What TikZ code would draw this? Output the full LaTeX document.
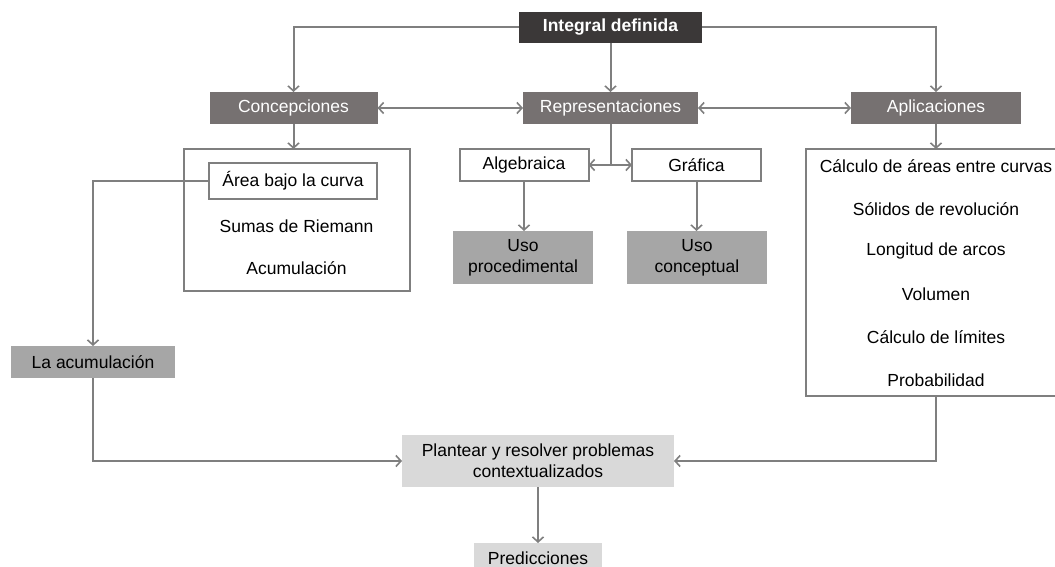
\documentclass[tikz,border=0pt]{standalone}
\usepackage{fontspec}
\setmainfont{Liberation Sans}
\usetikzlibrary{arrows.meta}
\definecolor{cdark}{HTML}{3B3838}
\definecolor{cmid}{HTML}{767171}
\definecolor{cgray}{HTML}{A6A6A6}
\definecolor{clight}{HTML}{D9D9D9}
\definecolor{cline}{HTML}{7F7F7F}
\begin{document}
\begin{tikzpicture}[x=1pt,y=-1pt,
  every node/.style={inner sep=0pt, outer sep=0pt, font=\fontsize{17.5}{21}\selectfont, align=center},
  topbox/.style={fill=cdark, text=white, font=\fontsize{17.5}{21}\selectfont\bfseries},
  headbox/.style={fill=cmid, text=white},
  outbox/.style={draw=cline, line width=2pt, fill=white},
  greybox/.style={fill=cgray},
  lightbox/.style={fill=clight},
  tip/.tip={Straight Barb[length=5pt,width=11pt,line width=1.6pt]},
  conn/.style={draw=cline, line width=2pt, -tip},
  dconn/.style={draw=cline, line width=2pt, tip-tip},
  plain/.style={draw=cline, line width=2pt}
]
\useasboundingbox (0,0) rectangle (1055,567);
\fill[white] (0,0) rectangle (1055,567);

% top level
\node[topbox, minimum width=183pt, minimum height=31pt] (top) at (610.5,27.5) {Integral definida};

% second level
\node[headbox, minimum width=168pt, minimum height=32pt] (conc) at (293.5,108) {Concepciones};
\node[headbox, minimum width=175pt, minimum height=32pt] (rep) at (610.5,108) {Representaciones};
\node[headbox, minimum width=170pt, minimum height=32pt] (apl) at (936,108) {Aplicaciones};

% conceptions frame
\node[outbox, minimum width=226pt, minimum height=142pt] (cbox) at (296.5,220) {};
\node[outbox, minimum width=168pt, minimum height=36pt] (area) at (293,181) {Área bajo la curva};
\node (sumas) at (296.5,226) {Sumas de Riemann};
\node (acum) at (296.5,268) {Acumulación};

% representations
\node[outbox, minimum width=129pt, minimum height=32pt] (alg) at (524,165) {Algebraica};
\node[outbox, minimum width=129pt, minimum height=32pt] (graf) at (696.5,165) {Gráfica};
\node[greybox, minimum width=140pt, minimum height=53pt] (usop) at (523,257.5) {Uso\\procedimental};
\node[greybox, minimum width=140pt, minimum height=53pt] (usoc) at (697,257.5) {Uso\\conceptual};
\coordinate (fork) at (610.5,165);

% applications frame
\node[outbox, minimum width=260pt, minimum height=247pt] (abox) at (936,272.5) {};
\node (a1) at (936,166) {Cálculo de áreas entre curvas};
\node (a2) at (936,209) {Sólidos de revolución};
\node (a3) at (936,251) {Longitud de arcos};
\node (a4) at (936,294) {Volumen};
\node (a5) at (936,337) {Cálculo de límites};
\node (a6) at (936,380) {Probabilidad};

% lower part
\node[greybox, minimum width=164pt, minimum height=32pt] (lacum) at (93,362) {La acumulación};
\node[lightbox, minimum width=272pt, minimum height=52pt] (plan) at (538,461) {Plantear y resolver problemas\\contextualizados};
\node[lightbox, minimum width=128pt, minimum height=34pt, anchor=north] (pred) at (538,543) {};
\node[anchor=base] (predtxt) at (538,564) {Predicciones};

% connectors
\draw[conn] (top.west) -| (conc.north);
\draw[conn] (top.east) -| (apl.north);
\draw[conn] (top.south) -- (rep.north);
\draw[dconn] (conc.east) -- (rep.west);
\draw[dconn] (rep.east) -- (apl.west);
\draw[conn] (conc.south) -- (cbox.north -| conc.south);
\draw[plain] (rep.south) -- (fork);
\draw[conn] (fork) -- (alg.east);
\draw[conn] (fork) -- (graf.west);
\draw[conn] (alg.south) -- (usop.north -| alg.south);
\draw[conn] (graf.south) -- (usoc.north -| graf.south);
\draw[conn] (apl.south) -- (abox.north -| apl.south);
\draw[conn] (area.west) -| (lacum.north);
\draw[conn] (lacum.south) |- (plan.west);
\draw[conn] (abox.south -| apl.south) |- (plan.east);
\draw[conn] (plan.south) -- (pred.north);
\end{tikzpicture}
\end{document}
